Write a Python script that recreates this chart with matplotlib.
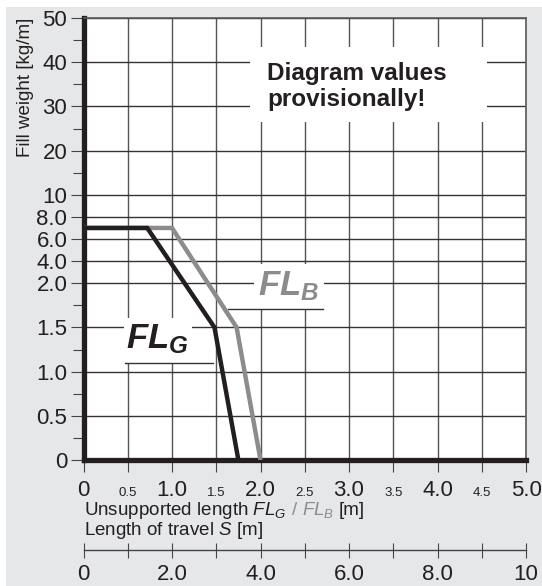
import matplotlib
matplotlib.use('Agg')
import matplotlib.pyplot as plt
import matplotlib.patches as patches
from matplotlib.lines import Line2D
import numpy as np

plt.rcParams['font.family'] = 'Liberation Sans'
plt.rcParams['mathtext.fontset'] = 'custom'
plt.rcParams['mathtext.rm'] = 'Liberation Sans'
plt.rcParams['mathtext.it'] = 'Liberation Sans:italic'
plt.rcParams['mathtext.bf'] = 'Liberation Sans:bold:italic'

# curves: unsupported length [m] vs fill weight [kg/m]
fl_g_len = [0.0, 0.72, 1.48, 1.75]
fl_g_weight = [7.0, 7.0, 1.5, 0.0]
fl_b_len = [0.0, 1.0, 1.73, 2.0]
fl_b_weight = [7.0, 7.0, 1.5, 0.0]

x_major = [0, 1, 2, 3, 4, 5]
x_major_labels = ['0', '1.0', '2.0', '3.0', '4.0', '5.0']
x_minor = [0.5, 1.5, 2.5, 3.5, 4.5]
x_minor_labels = ['0.5', '1.5', '2.5', '3.5', '4.5']

y_ticks = [0, 0.5, 1, 1.5, 2, 4, 6, 8, 10, 20, 30, 40, 50]
y_tick_labels = ['0', '0.5', '1.0', '1.5', '2.0', '4.0', '6.0', '8.0',
                 '10', '20', '30', '40', '50']
y_minor = [0.25, 0.75, 1.25, 1.75, 15, 25, 35, 45]
# position of each y tick on the (piecewise linear) axis
y_steps = [0, 1, 2, 3, 4, 4.5, 5, 5.5, 6, 7, 8, 9, 10]

s_major = [0, 2, 4, 6, 8, 10]
s_major_labels = ['0', '2.0', '4.0', '6.0', '8.0', '10']
s_minor = [1, 3, 5, 7, 9]

BLACK = '#231f20'
GRAY = '#8c8c8c'
TICK = '#444444'
BG = '#e6e7e8'

W, H = 542, 586


def fwd(y):
    return np.interp(y, y_ticks, y_steps)


def inv(p):
    return np.interp(p, y_steps, y_ticks)


fig = plt.figure(figsize=(W / 100, H / 100), dpi=100)
fig.add_artist(patches.Rectangle((6 / W, 0), 1, 1 - 7 / H, transform=fig.transFigure,
                                 facecolor=BG, edgecolor='none', zorder=-10))

ax_l, ax_b, ax_w, ax_h = 83.5, 460, 442.5, 442
ax = fig.add_axes([ax_l / W, 1 - ax_b / H, ax_w / W, ax_h / H])


def ax_x(px):
    return (px - ax_l) / ax_w


def ax_y(py):
    return (ax_b - py) / ax_h


ax.set_yscale('function', functions=(fwd, inv))
ax.set_xlim(0, 5)
ax.set_ylim(0, 50)

for s in ['left', 'bottom']:
    ax.spines[s].set_linewidth(3.8)
    ax.spines[s].set_color(BLACK)
for s in ['top', 'right']:
    ax.spines[s].set_linewidth(1.2)
    ax.spines[s].set_color('#5a5a5a')

ax.set_xticks(x_major, x_major_labels)
ax.set_xticks(x_minor, x_minor_labels, minor=True)
ax.set_yticks(y_ticks, y_tick_labels)
ax.set_yticks(y_minor, minor=True)

ax.tick_params(axis='x', which='both', direction='out', length=8.6, width=0.8,
               color=TICK, pad=17.3, labelcolor=BLACK)
ax.tick_params(axis='x', which='major', labelsize=16)
ax.tick_params(axis='x', which='minor', labelsize=9.5)
ax.tick_params(axis='y', which='major', length=9.7, width=0.8, color=TICK,
               labelsize=16, pad=2, labelcolor=BLACK)
ax.tick_params(axis='y', which='minor', length=7.6, width=0.8, color=TICK)
for lbl in ax.get_xticklabels() + ax.get_xticklabels(minor=True):
    lbl.set_va('baseline')

ax.grid(True, axis='x', which='both', color='#555555', lw=1.0, zorder=1)
ax.grid(True, axis='y', which='major', color='#333333', lw=1.0, zorder=1)


def white_box(x0, y0, x1, y1):
    ax.add_patch(patches.Rectangle((ax_x(x0), ax_y(y1)), ax_x(x1) - ax_x(x0),
                                   ax_y(y0) - ax_y(y1), transform=ax.transAxes,
                                   facecolor='white', edgecolor='none', zorder=1.8))


def underline(x0, x1, y):
    ax.add_line(Line2D([ax_x(x0), ax_x(x1)], [ax_y(y), ax_y(y)], transform=ax.transAxes,
                       color='#333333', lw=1.0, zorder=1.9))


white_box(250, 47, 487, 122)
white_box(124, 318, 192, 363)
white_box(254, 264, 324, 309)
underline(125, 213, 363)
underline(228, 323, 309)

ax.plot(fl_b_len, fl_b_weight, color=GRAY, lw=3.2, solid_joinstyle='miter',
        solid_capstyle='butt', zorder=3)
ax.plot(fl_g_len, fl_g_weight, color=BLACK, lw=3.2, solid_joinstyle='miter',
        solid_capstyle='butt', zorder=3)

ax.text(ax_x(267), ax_y(80), 'Diagram values', transform=ax.transAxes,
        fontsize=17.5, fontweight='bold', va='baseline', color=BLACK, zorder=4)
ax.text(ax_x(267), ax_y(106), 'provisionally!', transform=ax.transAxes,
        fontsize=17.5, fontweight='bold', va='baseline', color=BLACK, zorder=4)
ax.text(ax_x(126), ax_y(348), r'$\mathbf{FL}_{\mathbf{G}}$', transform=ax.transAxes,
        fontsize=25, va='baseline', color=BLACK, zorder=4)
ax.text(ax_x(258), ax_y(295), r'$\mathbf{FL}_{\mathbf{B}}$', transform=ax.transAxes,
        fontsize=25, va='baseline', color=GRAY, zorder=4)

# second scale: length of travel S = 2 * FL
sec = ax.secondary_xaxis(ax_y(550), functions=(lambda x: 2 * x, lambda s: s / 2))
sec.set_xticks(s_major, s_major_labels)
sec.set_xticks(s_minor, minor=True)
sec.tick_params(which='both', direction='inout', length=10.8, width=0.8, color=TICK,
                pad=16.0, labelsize=16, labelcolor=BLACK)
sec.spines['bottom'].set_color(TICK)
sec.spines['bottom'].set_linewidth(1.0)
for lbl in sec.get_xticklabels():
    lbl.set_va('baseline')

# axis titles
fig.text(25 / W, 1 - 18 / H, 'Fill weight [kg/m]', rotation=90, ha='center', va='top',
         fontsize=13.5, color=BLACK)
yb = 1 - 515 / H
t1 = fig.text(84.5 / W, yb, r'Unsupported length $\mathit{FL}_G$', fontsize=13.5,
              va='baseline', color=BLACK)
t2 = ax.annotate('/', xy=(1, yb), xycoords=(t1, 'figure fraction'), xytext=(3.5, 0),
                 textcoords='offset points', va='baseline', fontsize=13.5, color=GRAY,
                 annotation_clip=False)
t3 = ax.annotate(r'$\mathit{FL}_B$', xy=(1, yb), xycoords=(t2, 'figure fraction'),
                 xytext=(3.5, 0), textcoords='offset points', va='baseline',
                 fontsize=13.5, color=GRAY, annotation_clip=False)
ax.annotate('[m]', xy=(1, yb), xycoords=(t3, 'figure fraction'), xytext=(3.5, 0),
            textcoords='offset points', va='baseline', fontsize=13.5, color=BLACK,
            annotation_clip=False)
fig.text(84.5 / W, 1 - 535 / H, r'Length of travel $\mathit{S}$ [m]', fontsize=13.5,
         va='baseline', color=BLACK)

fig.savefig('out.png', dpi=100)
